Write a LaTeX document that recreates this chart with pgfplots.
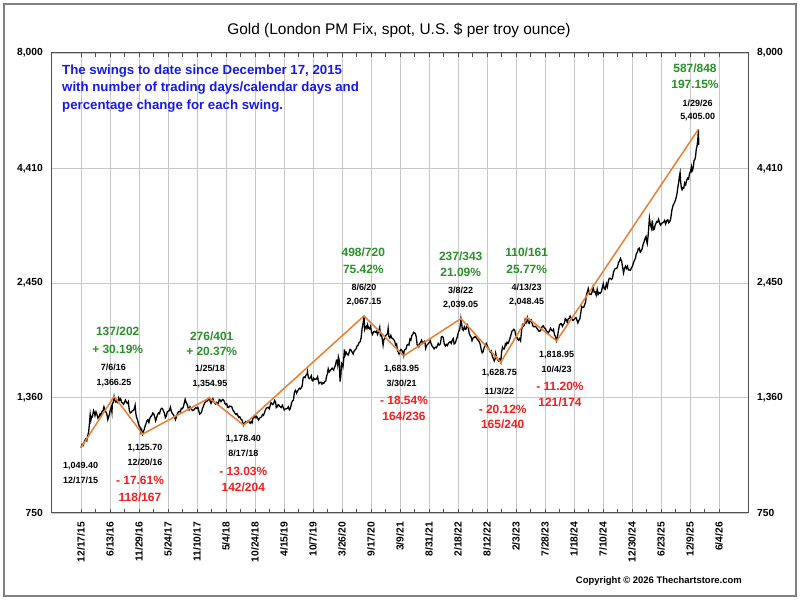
\documentclass[border=0pt]{standalone}
\usepackage{pgfplots}
\pgfplotsset{compat=1.18}
\usepackage{fontspec}
\setmainfont{Liberation Sans}
\definecolor{swing}{RGB}{237,125,49}
\definecolor{upgreen}{RGB}{40,145,40}
\definecolor{downred}{RGB}{240,30,30}
\definecolor{infoblue}{RGB}{25,25,230}
\definecolor{gridgray}{RGB}{200,200,200}
\definecolor{axisgray}{RGB}{80,80,80}
\newcommand{\stat}{\fontsize{12}{14}\selectfont\bfseries}
\newcommand{\lab}{\fontsize{9}{10}\selectfont\bfseries}
\begin{document}
\begin{tikzpicture}
\useasboundingbox (0bp,0bp) rectangle (800bp,600bp);
\fill[white] (0bp,0bp) rectangle (800bp,600bp);
\draw[gray, line width=1.5bp] (4bp,4bp) rectangle (796bp,596bp);
\begin{axis}[
  at={(52bp,87bp)}, anchor=south west,
  scale only axis, width=696bp, height=460bp,
  xmin=-120, xmax=2760,
  ymode=log, ymin=750, ymax=8000,
  xtick={0,120,...,2640},
  xticklabels={12/17/15,6/13/16,11/29/16,5/24/17,11/10/17,5/4/18,10/24/18,4/15/19,10/7/19,3/26/20,9/17/20,3/9/21,8/31/21,2/18/22,8/12/22,2/3/23,7/28/23,1/18/24,7/10/24,12/30/24,6/23/25,12/9/25,6/4/26},
  minor x tick num=1,
  ytick={750,1360,2450,4410,8000},
  yticklabels={750,{1,360},{2,450},{4,410},{8,000}},
  yticklabel pos=left,
  ytick style={draw=none},
  xtick style={axisgray, line width=0.8bp},
  major tick length=4bp, minor tick length=4bp,
  xmajorgrids, ymajorgrids,
  grid style={gridgray, line width=0.8bp},
  axis line style={axisgray, line width=1bp},
  xticklabel style={font=\fontsize{10.3}{12}\selectfont\bfseries, yshift=-9bp, rotate=90, anchor=east, inner sep=0pt},
  yticklabel style={font=\fontsize{10.3}{12}\selectfont\bfseries, xshift=-9bp, anchor=east, inner sep=0pt},
]
\addplot[black, line width=1.3bp] coordinates {
(0,1049.4) (5,1068) (9,1062) (12,1075) (16,1090) (20,1098) (24,1088) (28,1116)
(32,1142) (35,1190) (38,1245) (41,1210) (44,1232) (47,1230)
(52,1270) (55,1260) (58,1238) (62,1262) (66,1245) (70,1222)
(75,1232) (79,1250) (83,1240) (87,1265) (91,1268)
(95,1295) (99,1275) (103,1262) (107,1248) (111,1212)
(117,1243) (121,1275) (125,1292) (128,1260) (130,1320) (133,1322)
(137,1366.25) (140,1340) (144,1327) (148,1335) (152,1325)
(156,1357) (160,1340) (164,1350) (168,1325) (172,1320) (176,1312)
(180,1326) (184,1340) (188,1325) (192,1318) (196,1330)
(200,1270) (204,1255) (208,1258) (212,1268) (216,1270)
(220,1280) (224,1305) (227,1250) (230,1226) (234,1210) (238,1185)
(241,1172) (244,1168) (248,1135) (251,1150) (255,1125.7) (258,1140) (261,1150)
(265,1172) (269,1188) (273,1205) (277,1212) (281,1195)
(285,1220) (289,1232) (293,1238) (297,1255) (301,1250)
(305,1230) (309,1205) (313,1225) (317,1245) (321,1255)
(325,1250) (329,1275) (333,1285) (337,1283) (341,1268)
(345,1255) (349,1225) (353,1235) (357,1262) (361,1266)
(366,1270) (370,1292) (374,1265) (378,1250) (382,1245)
(387,1228) (391,1212) (395,1232) (399,1250) (403,1262)
(407,1265) (411,1262) (415,1285) (419,1282) (423,1292)
(427,1318) (431,1346) (435,1325) (439,1312) (443,1290)
(447,1275) (451,1295) (455,1282) (459,1275) (463,1270)
(467,1275) (471,1282) (475,1290) (479,1285) (483,1292)
(487,1270) (491,1248) (495,1252) (499,1262) (503,1285) (507,1300)
(511,1320) (515,1325) (519,1335) (523,1335) (527,1345) (531,1354.95)
(534,1335) (538,1318) (542,1330) (546,1350) (550,1330) (554,1320)
(556,1315) (560,1325) (564,1320) (568,1315) (572,1345) (576,1340)
(579,1330) (583,1340) (587,1345) (591,1338) (595,1320)
(599,1310) (603,1315) (607,1292) (611,1290) (615,1300)
(620,1298) (624,1295) (628,1275) (632,1266) (636,1255)
(641,1245) (645,1250) (649,1238) (653,1225) (657,1230)
(662,1215) (666,1210) (670,1192) (673,1178.4) (677,1190) (681,1200)
(684,1196) (688,1195) (692,1205) (696,1198) (700,1190)
(704,1200) (708,1192) (712,1225) (716,1225) (720,1235) (724,1225)
(727,1232) (731,1220) (735,1210) (739,1222) (743,1225)
(747,1230) (751,1245) (755,1240) (759,1255) (763,1275)
(767,1285) (771,1290) (775,1292) (779,1282) (783,1305) (786,1322)
(789,1318) (793,1310) (797,1315) (801,1338) (805,1330)
(808,1290) (812,1295) (816,1310) (820,1305) (824,1295)
(829,1290) (833,1305) (837,1292) (841,1275) (845,1280)
(850,1282) (854,1285) (858,1295) (862,1275) (866,1282)
(871,1320) (875,1335) (879,1340) (883,1395) (887,1410) (890,1400)
(892,1390) (896,1405) (900,1415) (904,1425) (908,1420) (912,1430)
(915,1440) (919,1500) (923,1510) (927,1505) (931,1525) (935,1530)
(937,1552) (941,1505) (945,1498) (949,1505) (953,1520) (956,1485)
(959,1480) (963,1500) (967,1490) (971,1495) (975,1495) (979,1512)
(981,1490) (985,1460) (989,1468) (993,1470) (997,1455)
(1001,1465) (1005,1462) (1009,1475) (1013,1480) (1016,1515)
(1019,1530) (1023,1575) (1027,1550) (1031,1560) (1035,1570) (1039,1580)
(1041,1575) (1045,1565) (1049,1585) (1053,1605) (1057,1645) (1060,1640)
(1062,1610) (1065,1675) (1068,1650) (1070,1560) (1072,1475) (1075,1520) (1078,1620) (1081,1610)
(1084,1590) (1087,1650) (1090,1740) (1093,1690) (1097,1715) (1101,1700)
(1105,1690) (1109,1710) (1113,1740) (1117,1735) (1121,1720)
(1126,1700) (1130,1725) (1134,1735) (1138,1745) (1142,1770)
(1147,1780) (1151,1805) (1155,1810) (1159,1845) (1163,1935) (1166,1970)
(1169,2020) (1171,2067.15) (1174,1930) (1177,1950) (1180,1960) (1183,1940) (1186,1975)
(1190,1940) (1194,1935) (1198,1960) (1202,1905) (1206,1880)
(1211,1905) (1215,1910) (1219,1900) (1223,1910) (1227,1880)
(1232,1910) (1236,1950) (1239,1870) (1243,1880) (1247,1830) (1250,1780)
(1253,1830) (1257,1840) (1261,1870) (1265,1880) (1268,1885)
(1271,1940) (1274,1860) (1278,1845) (1282,1870) (1286,1845)
(1290,1840) (1294,1830) (1298,1815) (1302,1780) (1306,1790) (1309,1740)
(1312,1720) (1316,1700) (1320,1730) (1324,1740) (1328,1730) (1332,1710) (1335,1683.95)
(1337,1725) (1341,1740) (1345,1745) (1349,1780) (1353,1785)
(1357,1780) (1361,1835) (1365,1825) (1369,1870) (1373,1880) (1376,1900)
(1379,1895) (1383,1890) (1387,1860) (1391,1780) (1395,1780) (1398,1765)
(1401,1790) (1405,1805) (1409,1825) (1413,1805) (1417,1800) (1421,1815)
(1423,1810) (1426,1750) (1430,1775) (1434,1785) (1438,1795) (1442,1805)
(1445,1820) (1449,1790) (1453,1770) (1457,1760) (1461,1745)
(1466,1760) (1470,1755) (1474,1770) (1478,1795) (1482,1780)
(1487,1790) (1491,1855) (1495,1860) (1499,1850) (1503,1790)
(1508,1770) (1512,1785) (1516,1775) (1520,1795) (1524,1805)
(1528,1810) (1532,1795) (1536,1825) (1540,1840) (1544,1790)
(1549,1800) (1553,1830) (1557,1855) (1561,1895) (1565,1920)
(1568,1940) (1572,2039.05) (1575,1990) (1578,1930) (1582,1920) (1586,1955)
(1590,1930) (1594,1935) (1598,1975) (1602,1955) (1606,1895)
(1610,1870) (1614,1855) (1618,1820) (1622,1845) (1626,1850)
(1631,1860) (1635,1850) (1639,1835) (1643,1825) (1647,1815)
(1652,1785) (1656,1740) (1660,1710) (1664,1720) (1668,1755)
(1673,1775) (1677,1795) (1681,1775) (1685,1750) (1689,1740)
(1694,1715) (1698,1725) (1702,1680) (1706,1660) (1710,1640) (1714,1660)
(1716,1705) (1720,1670) (1724,1650) (1728,1640) (1732,1655)
(1737,1628.75) (1740,1710) (1744,1760) (1748,1745) (1752,1745) (1756,1790)
(1759,1780) (1763,1805) (1767,1795) (1771,1815)
(1775,1840) (1779,1875) (1783,1910) (1787,1920) (1791,1930)
(1795,1920) (1799,1870) (1803,1855) (1807,1835) (1811,1825)
(1815,1840) (1819,1820) (1823,1915) (1827,1975) (1831,1960) (1835,1975)
(1838,2030) (1842,2000) (1847,2048.45) (1851,1995) (1855,1990)
(1859,2020) (1863,2025) (1867,1985) (1871,1960) (1875,1955)
(1880,1960) (1884,1950) (1888,1935) (1892,1920) (1896,1910)
(1901,1915) (1905,1935) (1909,1960) (1913,1965) (1917,1945)
(1922,1935) (1926,1915) (1930,1905) (1934,1895) (1938,1915)
(1943,1940) (1947,1920) (1951,1915) (1955,1930) (1959,1880) (1963,1860)
(1968,1818.95) (1972,1860) (1976,1925) (1980,1975) (1984,1985)
(1988,1985) (1992,1960) (1996,1980) (2000,1990) (2004,2040)
(2008,2030) (2012,2000) (2016,2035) (2020,2040) (2024,2065)
(2028,2045) (2032,2030) (2036,2020) (2040,2030) (2044,2040)
(2048,2050) (2052,2025) (2056,1995) (2060,2020) (2064,2035)
(2068,2100) (2072,2170) (2076,2160) (2080,2160) (2084,2190) (2088,2220)
(2091,2300) (2095,2340) (2099,2380) (2103,2320) (2107,2310)
(2111,2310) (2115,2340) (2119,2400) (2123,2340) (2127,2340)
(2132,2300) (2136,2370) (2140,2310) (2144,2330) (2148,2320)
(2153,2340) (2157,2390) (2161,2440) (2165,2380) (2169,2370)
(2174,2440) (2178,2400) (2182,2470) (2186,2510) (2190,2510)
(2195,2495) (2199,2510) (2203,2580) (2207,2620) (2211,2640)
(2216,2640) (2220,2660) (2224,2720) (2228,2740) (2232,2780)
(2237,2740) (2241,2660) (2245,2580) (2249,2640) (2253,2670)
(2257,2640) (2261,2670) (2265,2620) (2269,2620) (2273,2615)
(2278,2650) (2282,2670) (2286,2720) (2290,2750) (2294,2780)
(2298,2850) (2302,2870) (2306,2920) (2310,2930) (2314,2870)
(2318,2890) (2322,2920) (2326,2990) (2330,3030) (2334,3080) (2338,3110)
(2340,3050) (2343,3000) (2346,3100) (2349,3240) (2352,3420) (2355,3330) (2358,3280)
(2361,3240) (2364,3380) (2368,3220) (2372,3230) (2376,3300)
(2382,3360) (2386,3350) (2390,3400) (2394,3340) (2398,3300)
(2403,3330) (2407,3340) (2411,3350) (2415,3380) (2419,3320)
(2424,3380) (2428,3390) (2432,3340) (2436,3360) (2440,3410)
(2445,3560) (2449,3640) (2453,3680) (2457,3720) (2461,3770) (2465,3860)
(2467,3900) (2470,4020) (2473,4100) (2476,4240) (2479,4320) (2481,4150) (2484,4000) (2487,3960)
(2490,4000) (2494,3990) (2498,4100) (2502,4060) (2506,4150)
(2510,4200) (2514,4180) (2518,4300) (2522,4350) (2526,4450) (2528,4350)
(2531,4380) (2534,4470) (2537,4600) (2540,4620) (2543,4700) (2546,4880) (2549,4950) (2552,5100) (2555,5405) (2556,4980)
};
\addplot[swing, line width=1.5bp] coordinates {
(0,1049.4) (137,1366.25) (255,1125.7) (531,1354.95) (673,1178.4) (1171,2067.15)
(1335,1683.95) (1572,2039.05) (1737,1628.75) (1847,2048.45) (1968,1818.95) (2555,5405)
};
\end{axis}
\begin{axis}[
  at={(52bp,87bp)}, anchor=south west,
  scale only axis, width=696bp, height=460bp,
  xmin=-120, xmax=2760,
  ymode=log, ymin=750, ymax=8000,
  hide x axis,
  axis y line*=right,
  axis line style={draw=none},
  ytick={750,1360,2450,4410,8000},
  yticklabels={750,{1,360},{2,450},{4,410},{8,000}},
  ytick style={draw=none},
  yticklabel style={font=\fontsize{10.3}{12}\selectfont\bfseries, xshift=9bp, anchor=west, inner sep=0pt},
]
\addplot[draw=none] coordinates {(0,1000) (100,1000)};
\end{axis}
\begin{scope}[x=1bp,y=1bp]
\node at (399,570) {\fontsize{15.5}{18}\selectfont Gold (London PM Fix, spot, U.S. \$ per troy ounce)};
\begin{scope}[font=\fontsize{13.3}{15}\selectfont\bfseries, text=infoblue]
\node[anchor=west, inner sep=0pt] at (62,529) {The swings to date since December 17, 2015};
\node[anchor=west, inner sep=0pt] at (62,511.7) {with number of trading days/calendar days and};
\node[anchor=west, inner sep=0pt] at (62,494) {percentage change for each swing.};
\end{scope}
\node[anchor=east, inner sep=0pt] at (742,19) {\fontsize{9.5}{11}\selectfont\bfseries Copyright © 2026 Thechartstore.com};
\node at (80.7,134) {\lab 1,049.40};
\node at (80.7,120) {\lab 12/17/15};
\node[text=upgreen] at (117.7,268.3) {\stat 137/202};
\node[text=upgreen] at (117.7,251) {\stat + 30.19\%};
\node at (113.3,232.7) {\lab 7/6/16};
\node at (114,217.3) {\lab 1,366.25};
\node at (145,151.7) {\lab 1,125.70};
\node at (145,137.7) {\lab 12/20/16};
\node[text=downred] at (140,119.3) {\stat - 17.61\%};
\node[text=downred] at (140,102.7) {\stat 118/167};
\node[text=upgreen] at (211.7,264) {\stat 276/401};
\node[text=upgreen] at (211.7,248.3) {\stat + 20.37\%};
\node at (210,231.7) {\lab 1/25/18};
\node at (210,216) {\lab 1,354.95};
\node at (243.3,160.7) {\lab 1,178.40};
\node at (243.3,146.7) {\lab 8/17/18};
\node[text=downred] at (243.3,129) {\stat - 13.03\%};
\node[text=downred] at (243.3,112.7) {\stat 142/204};
\node[text=upgreen] at (363.3,347.7) {\stat 498/720};
\node[text=upgreen] at (363.3,330.7) {\stat 75.42\%};
\node at (364,312.7) {\lab 8/6/20};
\node at (364,297.7) {\lab 2,067.15};
\node at (401.7,230.7) {\lab 1,683.95};
\node at (401.7,216.7) {\lab 3/30/21};
\node[text=downred] at (404,199.3) {\stat - 18.54\%};
\node[text=downred] at (404,184) {\stat 164/236};
\node[text=upgreen] at (460.7,344) {\stat 237/343};
\node[text=upgreen] at (460.7,327.3) {\stat 21.09\%};
\node at (460.7,310) {\lab 3/8/22};
\node at (460.7,295) {\lab 2,039.05};
\node at (499.3,226.7) {\lab 1,628.75};
\node at (499.3,209) {\lab 11/3/22};
\node[text=downred] at (502.7,190.7) {\stat - 20.12\%};
\node[text=downred] at (502.7,176) {\stat 165/240};
\node[text=upgreen] at (526.7,347.7) {\stat 110/161};
\node[text=upgreen] at (526.7,330.7) {\stat 25.77\%};
\node at (526.7,312.3) {\lab 4/13/23};
\node at (526.7,298.3) {\lab 2,048.45};
\node at (556.7,245) {\lab 1,818.95};
\node at (556.7,231) {\lab 10/4/23};
\node[text=downred] at (560,213.3) {\stat - 11.20\%};
\node[text=downred] at (560,197.3) {\stat 121/174};
\node[text=upgreen] at (695,531.7) {\stat 587/848};
\node[text=upgreen] at (695,516) {\stat 197.15\%};
\node at (697.7,496.7) {\lab 1/29/26};
\node at (697.7,482.7) {\lab 5,405.00};
\end{scope}
\end{tikzpicture}
\end{document}
